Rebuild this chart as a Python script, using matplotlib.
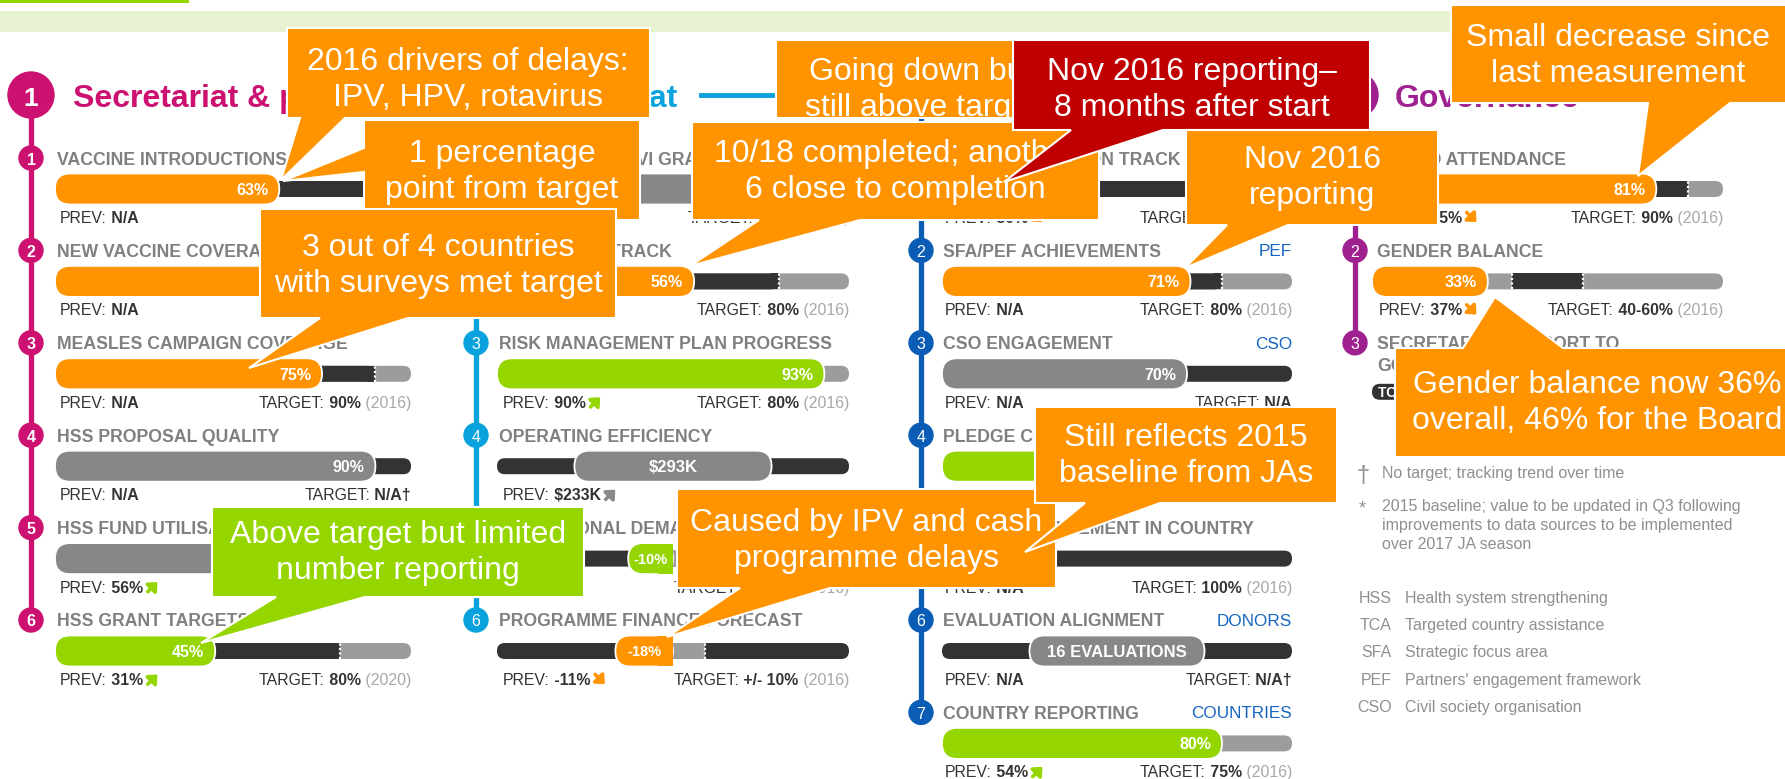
import matplotlib
matplotlib.use("Agg")
import matplotlib.pyplot as plt
from matplotlib.patches import FancyBboxPatch, Rectangle, Circle, Polygon
from matplotlib.text import OffsetFrom

plt.rcParams['font.family'] = ['Liberation Sans', 'DejaVu Sans']

# ---------------- data ----------------
HEADINGS = ["Secretariat & partners", "Secretariat", "Partners", "Governance"]

C1_LABELS = ["VACCINE INTRODUCTIONS", "NEW VACCINE COVERAGE", "MEASLES CAMPAIGN COVERAGE",
             "HSS PROPOSAL QUALITY", "HSS FUND UTILISATION", "HSS GRANT TARGETS"]
C1_KINDS = ["bar", "bar", "bar", "bar", "bar", "bar"]
C1_VALUES = [63, 80, 75, 90, 72, 45]
C1_VALUE_TEXT = ["63%", "80%", "75%", "90%", "72%", "45%"]
C1_STATUS = ["o", "o", "o", "n", "n", "g"]
C1_TARGETS = [90, 90, 90, None, None, 80]
C1_PREV = ["N/A", "N/A", "N/A", "N/A", "56%", "31%"]
C1_TREND = [None, None, None, None, "up", "up"]
C1_TARGET_TEXT = ["90%", "90%", "90%", "N/A†", "N/A†", "80%"]
C1_TARGET_YEAR = ["2016", "2016", "2016", "", "", "2020"]
C1_TAGS = ["", "", "", "", "", ""]

C2_LABELS = ["MULTI-YEAR GAVI GRANTS", "PEF TCA ON TRACK", "RISK MANAGEMENT PLAN PROGRESS",
             "OPERATING EFFICIENCY", "OPERATIONAL DEMAND FORECAST", "PROGRAMME FINANCE FORECAST"]
C2_KINDS = ["bar", "bar", "bar", "pill", "diverge", "diverge"]
C2_VALUES = [75, 56, 93, 293, -10, -18]
C2_VALUE_TEXT = ["75%", "56%", "93%", "$293K", "-10%", "-18%"]
C2_STATUS = ["n", "o", "g", "n", "g", "o"]
C2_TARGETS = [None, 80, 80, None, 10, 10]
C2_PREV = ["N/A", "N/A", "90%", "$233K", "-9%", "-11%"]
C2_TREND = [None, None, "up", "upgray", None, "down"]
C2_TARGET_TEXT = ["100%", "80%", "80%", "N/A†", "+/- 10%", "+/- 10%"]
C2_TARGET_YEAR = ["2016", "2016", "2016", "", "2016", "2016"]
C2_TAGS = ["", "", "", "", "", ""]

C3_LABELS = ["PEF TCA PLANS ON TRACK", "SFA/PEF ACHIEVEMENTS", "CSO ENGAGEMENT", "PLEDGE CONVERSION",
             "DONOR ENGAGEMENT IN COUNTRY", "EVALUATION ALIGNMENT", "COUNTRY REPORTING"]
C3_KINDS = ["bar", "bar", "bar", "bar", "bar", "pill", "bar"]
C3_VALUES = [18, 71, 70, 97, 25, 16, 80]
C3_VALUE_TEXT = ["18%", "71%", "70%", "97%", "25%", "16 EVALUATIONS", "80%"]
C3_STATUS = ["o", "o", "n", "g", "o", "n", "g"]
C3_TARGETS = [80, 80, None, 90, 100, None, 75]
C3_PREV = ["80%", "N/A", "N/A", "N/A", "N/A", "N/A", "54%"]
C3_TREND = ["down", None, None, None, None, None, "up"]
C3_TARGET_TEXT = ["80%", "80%", "N/A", "90%", "100%", "N/A†", "75%"]
C3_TARGET_YEAR = ["2016", "2016", "", "2016", "2016", "", "2016"]
C3_TAGS = ["PEF", "PEF", "CSO", "DONORS", "", "DONORS", "COUNTRIES"]

C4_LABELS = ["BOARD ATTENDANCE", "GENDER BALANCE", "SECRETARIAT SUPPORT TO\nGOVERNANCE"]
C4_KINDS = ["bar", "range", "status"]
C4_VALUES = [81, 33, None]
C4_VALUE_TEXT = ["81%", "33%", "TO BE MEASURED IN 2017"]
C4_STATUS = ["o", "o", "d"]
C4_TARGETS = [90, (40, 60), None]
C4_PREV = ["85%", "37%", None]
C4_TREND = ["down", "down", None]
C4_TARGET_TEXT = ["90%", "40-60%", None]
C4_TARGET_YEAR = ["2016", "2016", None]
C4_TAGS = ["", "", ""]

FOOTNOTES = [("†", ["No target; tracking trend over time"]),
             ("*", ["2015 baseline; value to be updated in Q3 following",
                    "improvements to data sources to be implemented",
                    "over 2017 JA season"])]
ABBREV = ["HSS", "TCA", "SFA", "PEF", "CSO"]
ABBREV_TEXT = ["Health system strengthening", "Targeted country assistance", "Strategic focus area",
               "Partners' engagement framework", "Civil society organisation"]

ORANGE, GREEN, RED = "#ff9300", "#95d500", "#c00000"
CALLOUTS = [
    dict(text="2016 drivers of delays:\nIPV, HPV, rotavirus", box=(287, 28, 650, 118), side="bottom",
         base=(300, 345), tip=(281, 180), tx=468, ty=80, fc=ORANGE),
    dict(text="1 percentage\npoint from target", box=(364, 120, 640, 220), side="left",
         base=(148, 172), tip=(283, 181), tx=502, ty=172, fc=ORANGE),
    dict(text="3 out of 4 countries\nwith surveys met target", box=(260, 209, 616, 318), side="bottom",
         base=(320, 408), tip=(249, 368), tx=438, ty=266, fc=ORANGE),
    dict(text="Going down but\nstill above target", box=(776, 40, 1066, 118), side=None,
         base=None, tip=None, tx=921, ty=90, fc=ORANGE),
    dict(text="10/18 completed; another\n6 close to completion", box=(692, 122, 1099, 220), side="bottom",
         base=(759, 860), tip=(690, 266), tx=895, ty=172, fc=ORANGE),
    dict(text="Nov 2016 reporting\u2013\n8 months after start", box=(1013, 40, 1370, 130), side="bottom",
         base=(1071, 1163), tip=(1004, 182), tx=1192, ty=90, fc=RED),
    dict(text="Nov 2016\nreporting", box=(1186, 130, 1438, 225), side="bottom",
         base=(1227, 1288), tip=(1185, 268), tx=1312, ty=178, fc=ORANGE),
    dict(text="Small decrease since\nlast measurement", box=(1451, 5, 1790, 103), side="bottom",
         base=(1648, 1730), tip=(1638, 176), tx=1618, ty=56, fc=ORANGE),
    dict(text="Gender balance now 36%\noverall, 46% for the Board", box=(1395, 348, 1790, 457), side="top",
         base=(1463, 1563), tip=(1495, 297), tx=1597, ty=403, fc=ORANGE),
    dict(text="Caused by IPV and cash\nprogramme delays", box=(677, 489, 1056, 588), side="bottom",
         base=(740, 830), tip=(667, 637), tx=866, ty=541, fc=ORANGE),
    dict(text="Still reflects 2015\nbaseline from JAs", box=(1035, 407, 1337, 503), side="bottom",
         base=(1085, 1160), tip=(1025, 552), tx=1186, ty=456, fc=ORANGE),
    dict(text="Above target but limited\nnumber reporting", box=(212, 507, 584, 597), side="bottom",
         base=(276, 365), tip=(201, 643), tx=398, ty=553, fc=GREEN),
]

# ---------------- layout / style ----------------
W, H, DPI = 1785, 779, 100
COL_LINE_X = [31, 476, 921, 1355]
LABEL_X = [57, 499, 943, 1377]
BAR_X = [(55, 411), (497, 849), (942, 1292), (1372, 1723)]
PREV_X = [60, 503, 945, 1379]
ROW_Y0, ROW_DY = 158, 92.4
HEAD_Y = 95
COL_COLORS = ["#cc1170", "#0aa2dc", "#0a5cb5", "#9f2190"]
STATUS_COLORS = {"o": ORANGE, "g": GREEN, "n": "#878787", "d": "#333333"}
DARK, LIGHT = "#333333", "#9c9c9c"
LABEL_GREY, TEXT_DARK, YEAR_GREY, NOTE_GREY = "#808080", "#333333", "#a8a8a8", "#8f8f8f"
TAG_BLUE = "#1565c0"
THIN, THICK = 16, 31
FS_LABEL, FS_SMALL, FS_VAL, FS_CALL = 12.7, 11.4, 11.5, 23

fig = plt.figure(figsize=(W / DPI, H / DPI), dpi=DPI)
base = fig.add_axes([0, 0, 1, 1])
base.set_xlim(0, W); base.set_ylim(H, 0); base.set_axis_off()
over = fig.add_axes([0, 0, 1, 1], zorder=20)
over.set_xlim(0, W); over.set_ylim(H, 0); over.set_axis_off()

# top decoration
base.add_patch(Rectangle((0, 0), 189, 2.5, fc=GREEN, ec="none"))
base.add_patch(Rectangle((0, 11), W, 21, fc="#e7f3d0", ec="none"))


def rbox(ax, x0, x1, h, fc, s, ec="none", lw=0, z=2):
    r = 0.49 * h / s
    p = FancyBboxPatch((x0, -h / 2), x1 - x0, h, boxstyle=f"round,pad=0,rounding_size={r}",
                       mutation_aspect=s, fc=fc, ec=ec, lw=lw, zorder=z, clip_on=False)
    ax.add_patch(p)


def dotted(ax, t):
    ax.plot([t, t], [-THIN / 2, THIN / 2], color="white", lw=1.6, ls=(0, (1.0, 1.0)),
            zorder=3, clip_on=False)


def bar_ax(ci, yc, xlim):
    x0, x1 = BAR_X[ci]
    ax = fig.add_axes([x0 / W, 1 - (yc + 20) / H, (x1 - x0) / W, 40 / H], zorder=5)
    ax.set_xlim(*xlim); ax.set_ylim(-20, 20); ax.set_axis_off()
    return ax, (x1 - x0) / (xlim[1] - xlim[0])


def draw_bar(ax, s, v, vtext, status, target):
    if target is None or (not isinstance(target, tuple) and target >= 100):
        rbox(ax, 0, 100, THIN, DARK, s)
    elif isinstance(target, tuple):
        rbox(ax, 0, 100, THIN, LIGHT, s)
        ax.add_patch(Rectangle((target[0], -THIN / 2), target[1] - target[0], THIN, fc=DARK, ec="none", zorder=2))
        for t in target:
            dotted(ax, t)
    else:
        rbox(ax, 0, 100, THIN, LIGHT, s)
        rbox(ax, 0, target, THIN, DARK, s)
        r = THIN / 2 / s
        ax.add_patch(Rectangle((target - r, -THIN / 2), r, THIN, fc=DARK, ec="none", zorder=2))
        dotted(ax, target)
    rbox(ax, 0, v, THICK, STATUS_COLORS[status], s, ec="white", lw=1.3, z=4)
    ax.annotate(vtext, xy=(v, 0), xytext=(-8, 0), textcoords="offset points", ha="right",
                va="center_baseline", color="white", fontweight="bold", fontsize=FS_VAL, zorder=6)


def draw_pill(ax, s, vtext, status, frac):
    rbox(ax, 0, 100, THIN, DARK, s)
    rbox(ax, 50 - frac * 50, 50 + frac * 50, THICK, STATUS_COLORS[status], s, ec="white", lw=1.3, z=4)
    ax.text(50, 0, vtext, ha="center", va="center_baseline", color="white", fontweight="bold",
            fontsize=12, zorder=6)


def draw_diverge(ax, s, v, vtext, status, band):
    rbox(ax, -55, 55, THIN, DARK, s)
    ax.add_patch(Rectangle((-band, -THIN / 2), 2 * band, THIN, fc=LIGHT, ec="none", zorder=2))
    dotted(ax, -band); dotted(ax, band)
    left, right = min(v, -14), 0
    c = STATUS_COLORS[status]
    rbox(ax, left, right, THICK, c, s, ec="white", lw=1.3, z=4)
    r = THICK / 2 / s
    ax.add_patch(Rectangle((right - r, -THICK / 2 + 0.6), r, THICK - 1.2, fc=c, ec="none", zorder=4.5))
    ax.text((left + right) / 2, 0, vtext, ha="center", va="center_baseline", color="white",
            fontweight="bold", fontsize=10.5, zorder=6)


def rich_left(x, y, parts, fs=FS_SMALL):
    a = base.text(x, y, parts[0][0], fontsize=fs, fontweight=parts[0][1], color=parts[0][2],
                  ha="left", va="center_baseline", zorder=3)
    for t, w, c in parts[1:]:
        a = base.annotate(t, xy=(1, 0), xycoords=a, fontsize=fs, fontweight=w, color=c,
                          ha="left", va="bottom", zorder=3)
    return a


def rich_right(x, y, parts, fs=FS_SMALL):
    t, w, c = parts[-1]
    a = base.text(x, y, t, fontsize=fs, fontweight=w, color=c, ha="right", va="center_baseline", zorder=3)
    for t, w, c in reversed(parts[:-1]):
        a = base.annotate(t, xy=(0, 0), xycoords=a, fontsize=fs, fontweight=w, color=c,
                          ha="right", va="bottom", zorder=3)
    return a


def trend_arrow(artist, kind):
    col = {"up": GREEN, "down": ORANGE, "upgray": "#8a8a8a"}[kind]
    ref = OffsetFrom(artist, (1, 0.58))
    if kind.startswith("up"):
        tail, head = (3.5, -3.5), (10.5, 3.5)
    else:
        tail, head = (3.5, 3.5), (10.5, -3.5)
    base.annotate("", xy=head, xycoords=ref, xytext=tail, textcoords=ref,
                  arrowprops=dict(arrowstyle="-|>,head_length=0.55,head_width=0.5", lw=2.6, color=col,
                                  shrinkA=0, shrinkB=0, mutation_scale=8), zorder=3)


COLUMNS = [
    dict(labels=C1_LABELS, kinds=C1_KINDS, values=C1_VALUES, vtext=C1_VALUE_TEXT, status=C1_STATUS,
         targets=C1_TARGETS, prev=C1_PREV, trend=C1_TREND, ttext=C1_TARGET_TEXT, tyear=C1_TARGET_YEAR, tags=C1_TAGS),
    dict(labels=C2_LABELS, kinds=C2_KINDS, values=C2_VALUES, vtext=C2_VALUE_TEXT, status=C2_STATUS,
         targets=C2_TARGETS, prev=C2_PREV, trend=C2_TREND, ttext=C2_TARGET_TEXT, tyear=C2_TARGET_YEAR, tags=C2_TAGS),
    dict(labels=C3_LABELS, kinds=C3_KINDS, values=C3_VALUES, vtext=C3_VALUE_TEXT, status=C3_STATUS,
         targets=C3_TARGETS, prev=C3_PREV, trend=C3_TREND, ttext=C3_TARGET_TEXT, tyear=C3_TARGET_YEAR, tags=C3_TAGS),
    dict(labels=C4_LABELS, kinds=C4_KINDS, values=C4_VALUES, vtext=C4_VALUE_TEXT, status=C4_STATUS,
         targets=C4_TARGETS, prev=C4_PREV, trend=C4_TREND, ttext=C4_TARGET_TEXT, tyear=C4_TARGET_YEAR, tags=C4_TAGS),
]

# headings and spines
for ci, col in enumerate(COLUMNS):
    cx, cc = COL_LINE_X[ci], COL_COLORS[ci]
    last_y = ROW_Y0 + ROW_DY * (len(col["labels"]) - 1)
    base.plot([cx, cx], [HEAD_Y, last_y], color=cc, lw=3.8, solid_capstyle="butt", zorder=1)
    base.add_patch(Circle((cx, HEAD_Y), 23, color=cc, zorder=2))
    base.text(cx, HEAD_Y + 1, str(ci + 1), color="white", fontsize=19, fontweight="bold",
              ha="center", va="center_baseline", zorder=3)
base.text(73, HEAD_Y, HEADINGS[0], color=COL_COLORS[0], fontsize=23, fontweight="bold",
          ha="left", va="center_baseline", zorder=3)
base.text(677, HEAD_Y, HEADINGS[1], color=COL_COLORS[1], fontsize=23, fontweight="bold",
          ha="right", va="center_baseline", zorder=3)
base.plot([701, 772], [HEAD_Y, HEAD_Y], color=COL_COLORS[1], lw=3.5, zorder=3)
base.text(947, HEAD_Y, HEADINGS[2], color=COL_COLORS[2], fontsize=23, fontweight="bold",
          ha="left", va="center_baseline", zorder=3)
base.text(1395, HEAD_Y, HEADINGS[3], color=COL_COLORS[3], fontsize=23, fontweight="bold",
          ha="left", va="center_baseline", zorder=3)

# rows
for ci, col in enumerate(COLUMNS):
    cx, cc = COL_LINE_X[ci], COL_COLORS[ci]
    for ri, label in enumerate(col["labels"]):
        y = ROW_Y0 + ROW_DY * ri
        base.add_patch(Circle((cx, y), 12, color=cc, zorder=2))
        base.text(cx, y + 0.5, str(ri + 1), color="white", fontsize=11.5,
                  fontweight="bold" if ci == 0 else "normal", ha="center", va="center_baseline", zorder=3)
        kind = col["kinds"][ri]
        if kind == "status":
            l1, l2 = label.split("\n")
            base.text(LABEL_X[ci], y, l1, fontsize=FS_LABEL, fontweight="bold", color=LABEL_GREY,
                      va="center_baseline", zorder=3)
            base.text(LABEL_X[ci], y + 22, l2, fontsize=FS_LABEL, fontweight="bold", color=LABEL_GREY,
                      va="center_baseline", zorder=3)
            x0 = BAR_X[ci][0]
            base.add_patch(FancyBboxPatch((x0, y + 41), 190, 16, boxstyle="round,pad=0,rounding_size=7.9",
                                          fc=DARK, ec="none", zorder=3))
            base.text(x0 + 95, y + 49, col["vtext"][ri], color="white", fontsize=10, fontweight="bold",
                      ha="center", va="center_baseline", zorder=4)
            continue
        base.text(LABEL_X[ci], y, label, fontsize=FS_LABEL, fontweight="bold", color=LABEL_GREY,
                  va="center_baseline", zorder=3)
        if col["tags"][ri]:
            base.text(BAR_X[ci][1], y, col["tags"][ri], fontsize=12.3, color=TAG_BLUE, ha="right",
                      va="center_baseline", zorder=3)
        by = y + 31
        v, vt, st, tg = col["values"][ri], col["vtext"][ri], col["status"][ri], col["targets"][ri]
        if kind in ("bar", "range"):
            ax, s = bar_ax(ci, by, (0, 100))
            draw_bar(ax, s, v, vt, st, tg)
        elif kind == "pill":
            ax, s = bar_ax(ci, by, (0, 100))
            draw_pill(ax, s, vt, st, 0.56 if ci == 1 else 0.5)
        elif kind == "diverge":
            ax, s = bar_ax(ci, by, (-55, 55))
            draw_diverge(ax, s, v, vt, st, tg)
        py = y + 59
        pa = rich_left(PREV_X[ci], py, [("PREV:", "normal", TEXT_DARK),
                                         (" " + col["prev"][ri], "bold", TEXT_DARK)])
        if col["trend"][ri]:
            trend_arrow(pa, col["trend"][ri])
        parts = [("TARGET:", "normal", TEXT_DARK), (" " + col["ttext"][ri], "bold", TEXT_DARK)]
        if col["tyear"][ri]:
            parts.append((" (" + col["tyear"][ri] + ")", "normal", YEAR_GREY))
        rich_right(BAR_X[ci][1], py, parts)

# footnotes
base.text(1363, 473, FOOTNOTES[0][0], fontsize=17, color=NOTE_GREY, ha="center", va="center_baseline")
base.text(1382, 472, FOOTNOTES[0][1][0], fontsize=11.5, color=NOTE_GREY, ha="left", va="center_baseline")
base.text(1362, 507, FOOTNOTES[1][0], fontsize=13, color=NOTE_GREY, ha="center", va="center_baseline")
for k, line in enumerate(FOOTNOTES[1][1]):
    base.text(1382, 505 + 19 * k, line, fontsize=11.5, color=NOTE_GREY, ha="left", va="center_baseline")
for k, (ab, txt) in enumerate(zip(ABBREV, ABBREV_TEXT)):
    yy = 597 + 27.2 * k
    base.text(1392, yy, ab, fontsize=11.5, color=NOTE_GREY, ha="right", va="center_baseline")
    base.text(1405, yy, txt, fontsize=11.5, color=NOTE_GREY, ha="left", va="center_baseline")

# callouts (each callout gets its own layer so later ones cover earlier ones, text included)
for i, c in enumerate(CALLOUTS):
    x0, y0, x1, y1 = c["box"]
    side = c["side"]
    if side == "bottom":
        b0, b1 = c["base"]
        pts = [(x0, y0), (x1, y0), (x1, y1), (b1, y1), c["tip"], (b0, y1), (x0, y1)]
    elif side == "top":
        b0, b1 = c["base"]
        pts = [(x0, y0), (b0, y0), c["tip"], (b1, y0), (x1, y0), (x1, y1), (x0, y1)]
    elif side == "left":
        b0, b1 = c["base"]
        pts = [(x0, y0), (x1, y0), (x1, y1), (x0, y1), (x0, b1), c["tip"], (x0, b0)]
    else:
        pts = [(x0, y0), (x1, y0), (x1, y1), (x0, y1)]
    over.add_patch(Polygon(pts, closed=True, fc=c["fc"], ec="white", lw=1.5, joinstyle="miter",
                           zorder=10 + 2 * i))
    over.text(c["tx"], c["ty"], c["text"], color="white", fontsize=FS_CALL, ha="center", va="center",
              multialignment="center", linespacing=1.28, zorder=11 + 2 * i)

fig.savefig("out.png", dpi=DPI)
